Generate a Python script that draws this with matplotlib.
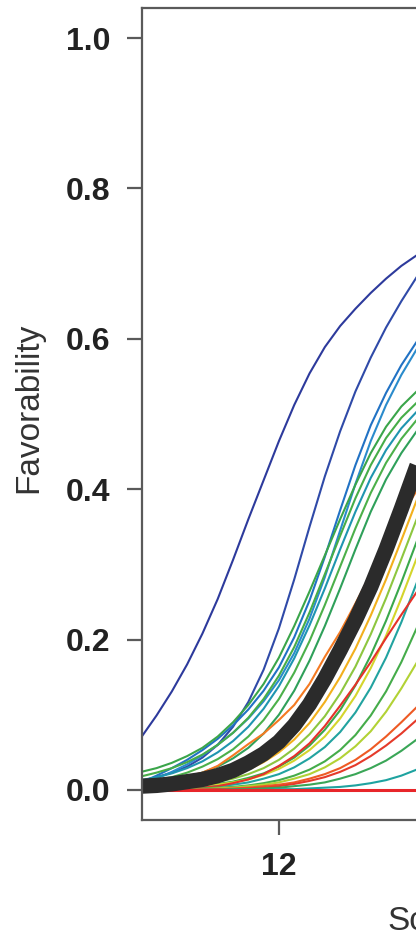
import matplotlib
matplotlib.use("Agg")
import matplotlib.pyplot as plt

# x positions (score units) at which curve values were read
x_vals = [11.1, 11.2, 11.3, 11.4, 11.5, 11.6, 11.7, 11.8, 11.9, 12.0,
          12.1, 12.2, 12.3, 12.4, 12.5, 12.6, 12.7, 12.8, 12.9, 13.0]

curves = {
    "A":  [0.070, 0.099, 0.131, 0.167, 0.208, 0.254, 0.306, 0.360, 0.412, 0.464, 0.512, 0.554, 0.589, 0.617, 0.640, 0.661, 0.680, 0.697, 0.711, 0.723],
    "B":  [0.012, 0.017, 0.023, 0.031, 0.043, 0.060, 0.084, 0.117, 0.160, 0.215, 0.280, 0.350, 0.417, 0.477, 0.530, 0.575, 0.615, 0.650, 0.682, 0.708],
    "C":  [0.010, 0.019, 0.029, 0.040, 0.053, 0.068, 0.086, 0.107, 0.132, 0.163, 0.203, 0.252, 0.310, 0.372, 0.432, 0.485, 0.528, 0.565, 0.596, 0.620],
    "D":  [0.008, 0.015, 0.024, 0.034, 0.046, 0.060, 0.076, 0.095, 0.118, 0.146, 0.182, 0.228, 0.283, 0.345, 0.407, 0.464, 0.512, 0.552, 0.586, 0.612],
    "E":  [0.024, 0.029, 0.036, 0.045, 0.056, 0.071, 0.090, 0.113, 0.141, 0.176, 0.218, 0.264, 0.312, 0.360, 0.406, 0.448, 0.483, 0.510, 0.530, 0.545],
    "E2": [0.018, 0.023, 0.029, 0.037, 0.047, 0.060, 0.076, 0.096, 0.121, 0.152, 0.190, 0.236, 0.287, 0.338, 0.388, 0.432, 0.468, 0.495, 0.515, 0.530],
    "E3": [0.013, 0.017, 0.022, 0.029, 0.038, 0.050, 0.065, 0.084, 0.108, 0.138, 0.175, 0.219, 0.268, 0.320, 0.370, 0.415, 0.452, 0.481, 0.503, 0.520],
    "E4": [0.010, 0.013, 0.017, 0.023, 0.031, 0.041, 0.054, 0.071, 0.093, 0.121, 0.156, 0.198, 0.246, 0.297, 0.348, 0.395, 0.435, 0.467, 0.492, 0.510],
    "E5": [0.007, 0.009, 0.012, 0.017, 0.023, 0.031, 0.042, 0.056, 0.075, 0.100, 0.132, 0.172, 0.218, 0.268, 0.320, 0.370, 0.413, 0.448, 0.477, 0.498],
    "F":  [0.005, 0.009, 0.013, 0.018, 0.023, 0.032, 0.046, 0.061, 0.075, 0.093, 0.113, 0.141, 0.177, 0.210, 0.248, 0.287, 0.326, 0.364, 0.398, 0.425],
    "Y2": [0.003, 0.004, 0.006, 0.008, 0.011, 0.015, 0.020, 0.027, 0.037, 0.050, 0.067, 0.089, 0.117, 0.150, 0.188, 0.232, 0.280, 0.332, 0.385, 0.435],
    "G":  [0.002, 0.003, 0.004, 0.006, 0.008, 0.011, 0.015, 0.021, 0.029, 0.040, 0.055, 0.074, 0.098, 0.128, 0.164, 0.207, 0.255, 0.307, 0.360, 0.410],
    "H":  [0.001, 0.002, 0.003, 0.004, 0.006, 0.008, 0.011, 0.016, 0.022, 0.031, 0.043, 0.059, 0.080, 0.106, 0.139, 0.179, 0.225, 0.276, 0.330, 0.382],
    "I":  [0.001, 0.001, 0.002, 0.003, 0.005, 0.007, 0.010, 0.014, 0.020, 0.028, 0.039, 0.053, 0.071, 0.095, 0.125, 0.162, 0.205, 0.255, 0.308, 0.360],
    "J":  [0.000, 0.001, 0.001, 0.002, 0.003, 0.005, 0.007, 0.010, 0.015, 0.021, 0.030, 0.042, 0.057, 0.077, 0.103, 0.136, 0.176, 0.223, 0.275, 0.328],
    "K":  [0.000, 0.001, 0.001, 0.002, 0.003, 0.005, 0.009, 0.014, 0.021, 0.032, 0.045, 0.062, 0.085, 0.112, 0.140, 0.170, 0.202, 0.233, 0.263, 0.290],
    "L":  [0.000, 0.000, 0.001, 0.001, 0.002, 0.003, 0.004, 0.006, 0.009, 0.013, 0.019, 0.027, 0.038, 0.053, 0.073, 0.099, 0.131, 0.170, 0.215, 0.262],
    "M":  [0.000, 0.000, 0.000, 0.001, 0.001, 0.002, 0.003, 0.005, 0.007, 0.010, 0.015, 0.021, 0.030, 0.042, 0.058, 0.078, 0.104, 0.135, 0.169, 0.205],
    "N":  [0.000, 0.000, 0.000, 0.000, 0.001, 0.001, 0.002, 0.003, 0.005, 0.007, 0.010, 0.015, 0.021, 0.029, 0.040, 0.054, 0.071, 0.090, 0.110, 0.132],
    "O":  [0.000, 0.000, 0.000, 0.000, 0.000, 0.001, 0.001, 0.002, 0.003, 0.005, 0.008, 0.012, 0.017, 0.024, 0.033, 0.045, 0.059, 0.075, 0.093, 0.112],
    "P":  [0.000, 0.000, 0.000, 0.000, 0.000, 0.000, 0.001, 0.001, 0.002, 0.003, 0.005, 0.007, 0.010, 0.015, 0.021, 0.029, 0.039, 0.052, 0.067, 0.083],
    "Q":  [0.000, 0.000, 0.000, 0.000, 0.000, 0.000, 0.000, 0.000, 0.000, 0.001, 0.001, 0.002, 0.003, 0.004, 0.006, 0.009, 0.013, 0.019, 0.027, 0.037],
    "R":  [0.000, 0.000, 0.000, 0.000, 0.000, 0.000, 0.000, 0.000, 0.000, 0.000, 0.000, 0.000, 0.000, 0.000, 0.000, 0.000, 0.000, 0.000, 0.000, 0.000],
}
mean_curve = [0.005, 0.006, 0.008, 0.011, 0.014, 0.019, 0.026, 0.036, 0.048, 0.064,
              0.086, 0.114, 0.148, 0.186, 0.226, 0.270, 0.320, 0.374, 0.430, 0.480]

curve_colors = {
    "A": "#2d3a9c", "B": "#2f4aa8", "C": "#2172c4", "D": "#2a8bcc",
    "E": "#3aa54a", "E2": "#46ad48", "E3": "#1f95b0", "E4": "#4cb04a", "E5": "#2fa05a",
    "F": "#f47a22", "Y2": "#f2b01d", "G": "#8dc63f", "H": "#3aa84c", "I": "#d4d52c",
    "J": "#22a3a0", "K": "#e5322a", "L": "#45ac4a", "M": "#b2d235", "N": "#ee5a24",
    "O": "#e53a2a", "P": "#3aa657", "Q": "#1ea3a0", "R": "#e8262a",
}

y_ticks = [0.0, 0.2, 0.4, 0.6, 0.8, 1.0]
x_ticks = [12, 13, 14]

W, H = 416, 943
fig = plt.figure(figsize=(W / 100, H / 100), dpi=100)
fig.patch.set_facecolor("white")

ax_left_px, ax_top_px, ax_bottom_px = 142, 8, 820
x0, x1 = 11.105, 14.5
px_per_unit = 153
ax_w_px = (x1 - x0) * px_per_unit
ax_h_px = ax_bottom_px - ax_top_px
ax = fig.add_axes([ax_left_px / W, (H - ax_bottom_px) / H,
                   ax_w_px / W, ax_h_px / H])

for name, vals in curves.items():
    lw = 2.2 if name == "R" else 1.5
    ax.plot(x_vals, vals, color=curve_colors[name], lw=lw, solid_capstyle="butt")

ax.plot(x_vals, mean_curve, color="#2b2b2b", lw=11, solid_capstyle="butt",
        solid_joinstyle="round")

ax.set_xlim(x0, x1)
ax.set_ylim(-0.04, 1.04)
ax.set_yticks(y_ticks)
ax.set_yticklabels([f"{v:.1f}" for v in y_ticks])
ax.set_xticks(x_ticks)
ax.set_xticklabels([str(v) for v in x_ticks])

for s in ax.spines.values():
    s.set_color("#5a5a5a")
    s.set_linewidth(1.6)

ax.tick_params(axis="both", length=11, width=1.6, color="#5a5a5a", pad=12)
for lab in ax.get_yticklabels() + ax.get_xticklabels():
    lab.set_fontfamily("Liberation Sans")
    lab.set_fontweight("bold")
    lab.set_fontsize(23)
    lab.set_color("#222222")

ax.set_ylabel("Favorability", fontfamily="Liberation Sans", fontsize=24,
              color="#333333")
ax.yaxis.set_label_coords(-(ax_left_px - 44) / ax_w_px, (ax_bottom_px - 408) / ax_h_px)

ax.set_xlabel("Score", fontfamily="Liberation Sans", fontsize=24, color="#333333")
ax.xaxis.label.set_horizontalalignment("left")
ax.xaxis.label.set_verticalalignment("top")
ax.xaxis.set_label_coords((387 - ax_left_px) / ax_w_px, (ax_bottom_px - 906) / ax_h_px)

fig.savefig("out.png", dpi=100)
